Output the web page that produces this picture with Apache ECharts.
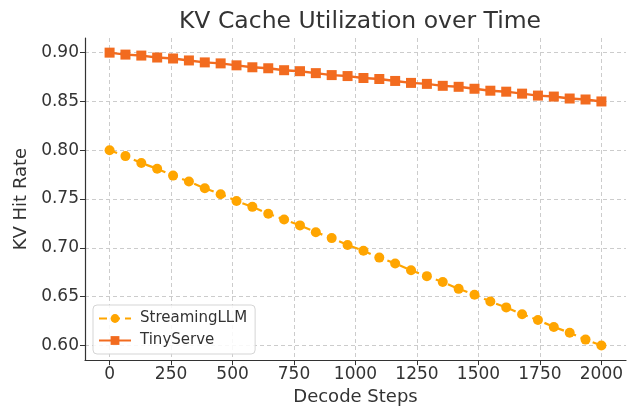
<!DOCTYPE html>
<html>
<head>
<meta charset="utf-8">
<script src="https://cdn.jsdelivr.net/npm/echarts@6/dist/echarts.min.js"></script>
<style>html,body{margin:0;padding:0;background:#fff}#c{width:637px;height:411px}</style>
</head>
<body>
<div id="c"></div>
<script>
var steps = [0, 64.5, 129, 193.5, 258.1, 322.6, 387.1, 451.6, 516.1, 580.6, 645.2, 709.7, 774.2, 838.7, 903.2, 967.7, 1032.3, 1096.8, 1161.3, 1225.8, 1290.3, 1354.8, 1419.4, 1483.9, 1548.4, 1612.9, 1677.4, 1741.9, 1806.5, 1871, 1935.5, 2000];
var streamingLLM = [0.800, 0.794, 0.787, 0.781, 0.774, 0.768, 0.761, 0.755, 0.748, 0.742, 0.735, 0.729, 0.723, 0.716, 0.710, 0.703, 0.697, 0.690, 0.684, 0.677, 0.671, 0.665, 0.658, 0.652, 0.645, 0.639, 0.632, 0.626, 0.619, 0.613, 0.606, 0.600];
var tinyServe = [0.900, 0.898, 0.897, 0.895, 0.894, 0.892, 0.890, 0.889, 0.887, 0.885, 0.884, 0.882, 0.881, 0.879, 0.877, 0.876, 0.874, 0.873, 0.871, 0.869, 0.868, 0.866, 0.865, 0.863, 0.861, 0.860, 0.858, 0.856, 0.855, 0.853, 0.852, 0.850];
var xTicks = [0, 250, 500, 750, 1000, 1250, 1500, 1750, 2000];
var yTicks = [0.60, 0.65, 0.70, 0.75, 0.80, 0.85, 0.90];

function pairs(xs, ys) { return xs.map(function (x, i) { return [x, ys[i]]; }); }

var font = 'DejaVu Sans';
var chart = echarts.init(document.getElementById('c'), null, { renderer: 'canvas' });
chart.setOption({
  animation: false,
  backgroundColor: '#fff',
  title: {
    text: 'KV Cache Utilization over Time',
    left: 355, top: 5, textAlign: 'center',
    textStyle: { fontFamily: font, fontSize: 23.5, fontWeight: 'normal', color: '#333' }
  },
  grid: { left: 85, right: 11, top: 38, bottom: 49, containLabel: false },
  legend: {
    left: 93, top: 305, orient: 'vertical',
    itemWidth: 32, itemHeight: 11, itemGap: 7,
    padding: [6, 8, 6, 5],
    borderColor: '#d5d5d5', borderWidth: 1, borderRadius: 4,
    backgroundColor: 'rgba(255,255,255,0.85)',
    textStyle: { fontFamily: font, fontSize: 15, color: '#333', padding: [0, 0, 0, 4] },
    data: ['StreamingLLM', 'TinyServe']
  },
  xAxis: {
    type: 'value', min: -100, max: 2100,
    name: 'Decode Steps', nameLocation: 'middle', nameGap: 27,
    nameTextStyle: { fontFamily: font, fontSize: 18, color: '#333' },
    axisLine: { onZero: false, lineStyle: { color: '#333', width: 1.2 } },
    axisTick: { show: true, length: 5, customValues: xTicks, lineStyle: { color: '#333' } },
    axisLabel: { customValues: xTicks, fontFamily: font, fontSize: 17, color: '#333', margin: 6,
      formatter: function (v) { return String(v); } },
    splitLine: { show: true, lineStyle: { color: '#cccccc', type: [4, 3], width: 1 } }
  },
  yAxis: {
    type: 'value', min: 0.585, max: 0.915,
    name: 'KV Hit Rate', nameLocation: 'middle', nameGap: 47,
    nameTextStyle: { fontFamily: font, fontSize: 18, color: '#333' },
    axisLine: { show: true, onZero: false, lineStyle: { color: '#333', width: 1.2 } },
    axisTick: { show: true, length: 5, customValues: yTicks, lineStyle: { color: '#333' } },
    axisLabel: { customValues: yTicks, fontFamily: font, fontSize: 17, color: '#333', margin: 6,
      formatter: function (v) { return v.toFixed(2); } },
    splitLine: { show: true, lineStyle: { color: '#cccccc', type: [4, 3], width: 1 } }
  },
  series: [
    {
      name: 'StreamingLLM', type: 'line', data: pairs(steps, streamingLLM),
      symbol: 'circle', symbolSize: 10,
      lineStyle: { color: '#FFA500', width: 2.2, type: [8, 5] },
      itemStyle: { color: '#FFA500' }
    },
    {
      name: 'TinyServe', type: 'line', data: pairs(steps, tinyServe),
      symbol: 'rect', symbolSize: 10,
      lineStyle: { color: '#F26B1F', width: 2.4 },
      itemStyle: { color: '#F26B1F' }
    }
  ]
});
</script>
</body>
</html>
